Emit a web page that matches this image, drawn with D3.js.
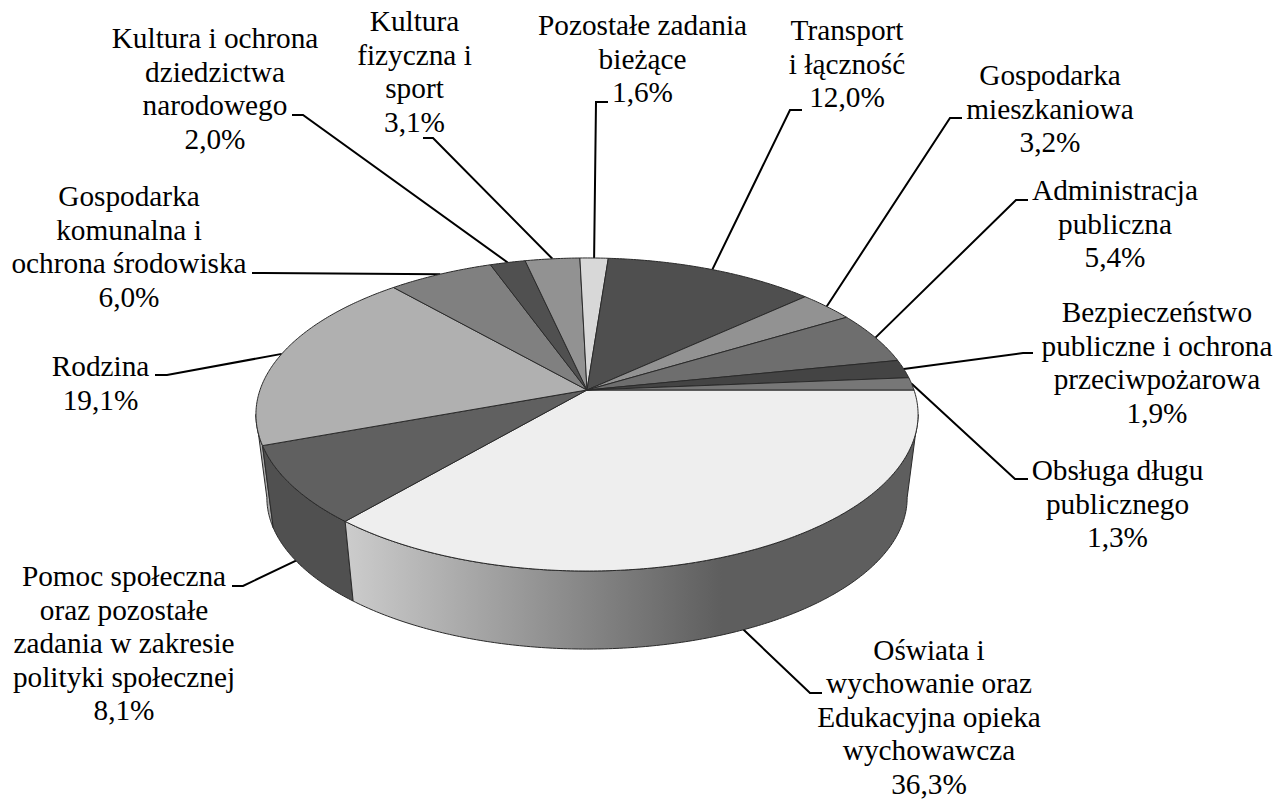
<!DOCTYPE html>
<html><head><meta charset="utf-8">
<script src="https://cdn.jsdelivr.net/npm/d3@7"></script>
<style>html,body{margin:0;padding:0;background:#fff}svg{display:block}text{font-family:"Liberation Serif",serif;font-size:29.3px;fill:#000;text-anchor:middle}</style>
</head><body><svg id="c" width="1287" height="799"></svg>
<script>
const categories=[
"Oświata i|wychowanie oraz|Edukacyjna opieka|wychowawcza",
"Pomoc społeczna|oraz pozostałe|zadania w zakresie|polityki społecznej",
"Rodzina",
"Gospodarka|komunalna i|ochrona środowiska",
"Kultura i ochrona|dziedzictwa|narodowego",
"Kultura|fizyczna i|sport",
"Pozostałe zadania|bieżące",
"Transport|i łączność",
"Gospodarka|mieszkaniowa",
"Administracja|publiczna",
"Bezpieczeństwo|publiczne i ochrona|przeciwpożarowa",
"Obsługa długu|publicznego"];
const values=[36.3,8.1,19.1,6.0,2.0,3.1,1.6,12.0,3.2,5.4,1.9,1.3];
const topColors=["#eeeeee","#606060","#b0b0b0","#808080","#505050","#929292","#d8d8d8","#4f4f4f","#929292","#6e6e6e","#444444","#777777"];
const labelX=[929,124,100.5,129,215,414.5,642.5,847,1050,1115,1157,1117.5];
const labelBase=[659.5,586,376,206,48,31,35,40,85,200,322,480];
const lineGap=33.6;
const elbows=[[[810,693],[822,693]],[[243,586],[232,586]],[[167,375],[155,375]],[[264,273],[252,273]],[[303,115],[292,115]],[[433,138],[423,138]],[[596,102],[608,102]],[[790,110],[802,110]],[[950,118],[962,118]],[[1016,200],[1028,200]],[[1023,353],[1033,353]],[[1015,479],[1028,479]]];
const wallFraction=[0.96,0.9];

const fmt=v=>v.toFixed(1).replace(".",",")+"%";
const svg=d3.select("#c");
const defs=svg.append("defs");
const g=defs.append("linearGradient").attr("id","front").attr("gradientUnits","userSpaceOnUse").attr("x1",350).attr("x2",722).attr("y1",0).attr("y2",0);
g.append("stop").attr("offset",0).attr("stop-color","#cbcbcb");
g.append("stop").attr("offset",1).attr("stop-color","#5e5e5e");

const K=0.1565,A=327,B=152.7,CX=587,CY=390;
const SB=0.967,YB=474;
function proj(a,bottom){
  const u=Math.sin(a),v=-Math.cos(a),w=1-K*v;
  const s=bottom?SB:1,y0=bottom?YB:CY;
  return [CX+s*A*u/w,y0+s*B*v/w];
}
const line=d3.line();
function arcPts(a0,a1,bottom){
  const n=Math.max(2,Math.ceil(Math.abs(a1-a0)/0.01));
  return d3.range(n+1).map(i=>proj(a0+(a1-a0)*i/n,bottom));
}
const pie=d3.pie().sort(null).startAngle(Math.PI/2).endAngle(Math.PI/2+2*Math.PI);
const arcs=pie(values);
const leadG=svg.append("g");
arcs.forEach((d,i)=>{
  const m=(d.startAngle+d.endAngle)/2;
  let p=proj(m,false);
  if(i<2){const q=proj(m,true),t=wallFraction[i];p=[p[0]+(q[0]-p[0])*t,p[1]+(q[1]-p[1])*t];}
  leadG.append("path").attr("d",line([p,...elbows[i]])).attr("fill","none").attr("stroke","#000").attr("stroke-width",2);
});
const aRight=Math.PI/2+Math.asin(K),aLeft=3*Math.PI/2-Math.asin(K);
const sideFill=["url(#front)","#505050","#a8a8a8"];
const sideG=svg.append("g");
[2,1,0].forEach(i=>{
  const a0=Math.max(arcs[i].startAngle,aRight),a1=Math.min(arcs[i].endAngle,aLeft);
  if(a1<=a0)return;
  const pts=arcPts(a0,a1,false).concat(arcPts(a1,a0,true));
  sideG.append("path").attr("d",line(pts)+"Z").attr("fill",sideFill[i]).attr("stroke","#2a2a2a").attr("stroke-width",1).attr("stroke-linejoin","round");
});
const topG=svg.append("g");
arcs.forEach((d,i)=>{
  const pts=[[CX,CY]].concat(arcPts(d.startAngle,d.endAngle,false));
  topG.append("path").attr("d",line(pts)+"Z").attr("fill",topColors[i]).attr("stroke","#2a2a2a").attr("stroke-width",1).attr("stroke-linejoin","round");
});
const textG=svg.append("g");
categories.forEach((c,i)=>{
  const lines=c.split("|").concat(fmt(values[i]));
  const t=textG.append("text").attr("transform",`translate(${labelX[i]},${labelBase[i]})`);
  lines.forEach((l,j)=>t.append("tspan").attr("x",0).attr("y",j*lineGap).text(l));
});
</script></body></html>
